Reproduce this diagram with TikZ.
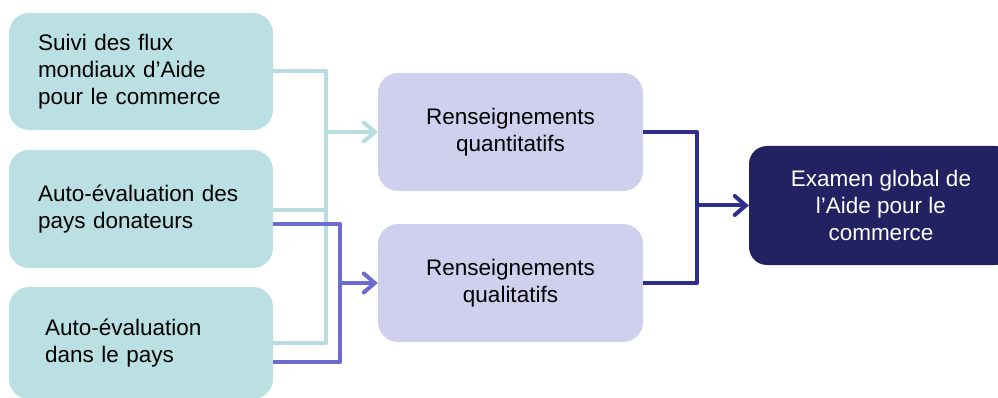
\documentclass[tikz,border=0pt]{standalone}
\usepackage{fontspec}
\setmainfont{Liberation Sans}
\usetikzlibrary{arrows.meta}
\definecolor{tealbox}{HTML}{BBE0E3}
\definecolor{tealline}{HTML}{B7DDE0}
\definecolor{lavbox}{HTML}{CFD0EE}
\definecolor{purpline}{HTML}{6B6BD0}
\definecolor{navyline}{HTML}{2E2F8C}
\definecolor{navybox}{HTML}{222262}
\begin{document}
\begin{tikzpicture}[x=1pt,y=-1pt,
  box/.style={rectangle, rounded corners=20pt, inner sep=0pt, font=\fontsize{22.5}{27}\selectfont},
  srcbox/.style={box, fill=tealbox, minimum width=264pt, align=left, text=black},
  midbox/.style={box, fill=lavbox, minimum width=265pt, minimum height=118pt, align=center, text=black},
  endbox/.style={box, fill=navybox, minimum width=264pt, minimum height=119pt, align=center, text=white, rounded corners=18pt},
  conn/.style={line width=4pt, line join=round},
  tip/.style={-{Straight Barb[length=11pt,width=19pt,line cap=round]}}
]
\useasboundingbox (0,0) rectangle (998,398);
\node[srcbox, minimum height=117pt, text width=206pt] (s1) at (141,71.5) {\mbox{Suivi des flux}\\\mbox{mondiaux d’Aide}\\\mbox{pour le commerce}};
\node[srcbox, minimum height=118pt, text width=206pt] (s2) at (141,209) {\mbox{Auto-évaluation des}\\\mbox{pays donateurs}};
\node[srcbox, minimum height=112pt, text width=192pt] (s3) at (141,343) {\mbox{Auto-évaluation}\\\mbox{dans le pays}};
\node[midbox] (m1) at (510.5,132) {Renseignements\\quantitatifs};
\node[midbox] (m2) at (510.5,283) {Renseignements\\qualitatifs};
\node[endbox] (r) at (881,205.5) {Examen global de\\l’Aide pour le\\commerce};
\coordinate (tx) at (326,0);
\coordinate (px) at (340,0);
\coordinate (nx) at (697,0);
\coordinate (t2) at ([yshift=-1pt]s2.east);
\coordinate (t3) at (s3.east);
\coordinate (p2) at ([yshift=-15pt]s2.east);
\coordinate (p3) at ([yshift=-19pt]s3.east);
\draw[conn, tealline] (s1.east) -| (tx |- t3) -- (t3);
\draw[conn, tealline] (t2) -- (tx |- t2);
\draw[conn, tealline, tip] (tx |- m1.west) -- (m1.west);
\draw[conn, purpline] (p2) -| (px |- p3) -- (p3);
\draw[conn, purpline, tip] (px |- m2.west) -- (m2.west);
\draw[conn, navyline] (m1.east) -| (nx |- m2.east) -- (m2.east);
\draw[conn, navyline, tip] (nx |- r.west) -- (r.west);
\end{tikzpicture}
\end{document}
